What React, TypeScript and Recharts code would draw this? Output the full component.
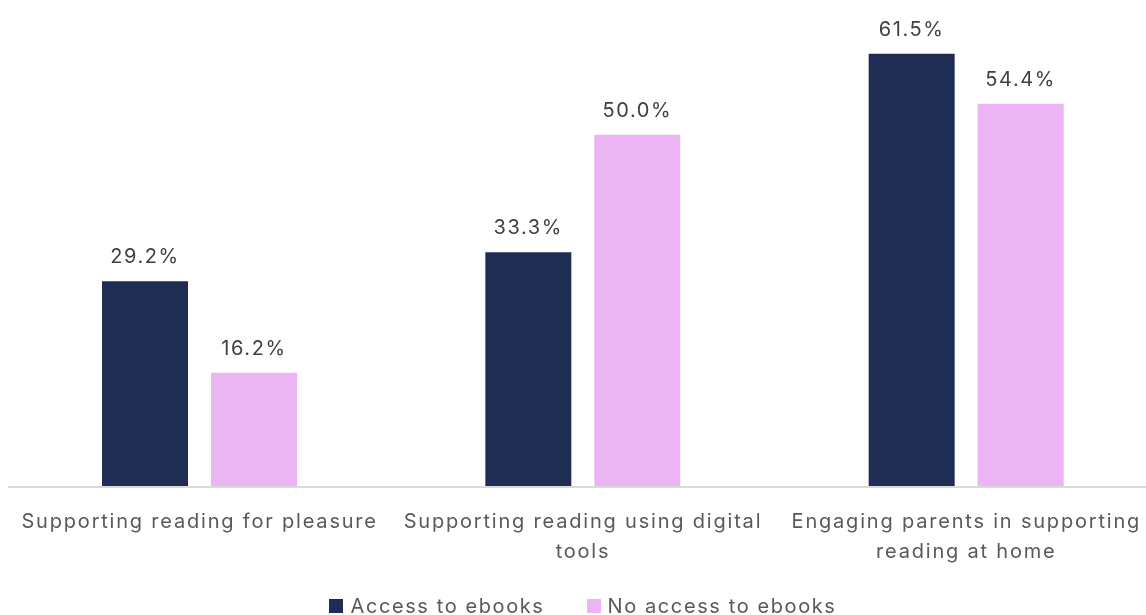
import React from "react";
import { BarChart, Bar, XAxis, YAxis, Legend, LabelList } from "recharts";

const categories = [
  "Supporting reading for pleasure",
  "Supporting reading using digital tools",
  "Engaging parents in supporting reading at home",
];
const accessValues = [29.2, 33.3, 61.5];
const noAccessValues = [16.2, 50.0, 54.4];
const seriesNames = ["Access to ebooks", "No access to ebooks"];

const NAVY = "#1f2d54";
const PINK = "#ebb4f2";
const FONT = "Inter, 'Noto Sans', sans-serif";
const SPACING = 1.6;

const data = categories.map((name, i) => ({
  name,
  access: accessValues[i],
  noAccess: noAccessValues[i],
}));

// greedy word wrap for the category labels
function wrap(text: string, maxChars: number): string[] {
  const lines: string[] = [];
  let line = "";
  for (const word of text.split(" ")) {
    const next = line ? line + " " + word : word;
    if (next.length > maxChars && line) {
      lines.push(line);
      line = word;
    } else {
      line = next;
    }
  }
  if (line) lines.push(line);
  return lines;
}

function CategoryTick(props: any) {
  const { x, y, payload } = props;
  const lines = wrap(payload.value, 32);
  return (
    <text
      x={x}
      y={y}
      textAnchor="middle"
      fill="#595959"
      fontSize={20}
      fontFamily={FONT}
      letterSpacing={1.8}
    >
      {lines.map((l, i) => (
        <tspan key={i} x={x} dy={i === 0 ? 33 : 30}>
          {l}
        </tspan>
      ))}
    </text>
  );
}

function LegendContent() {
  const colors = [NAVY, PINK];
  return (
    <div
      style={{
        display: "flex",
        justifyContent: "center",
        gap: 42,
        fontFamily: FONT,
        fontSize: 20,
        letterSpacing: SPACING,
        color: "#595959",
      }}
    >
      {seriesNames.map((n, i) => (
        <div key={n} style={{ display: "flex", alignItems: "center" }}>
          <span
            style={{
              width: 14,
              height: 14,
              background: colors[i],
              marginRight: 7,
              display: "inline-block",
            }}
          />
          {n}
        </div>
      ))}
    </div>
  );
}

const fmt = (v: any) => `${Number(v).toFixed(1)}%`;

export default function App() {
  return (
    <div
      style={{
        position: "fixed",
        top: 8,
        left: 8,
        width: 1138,
        height: 607,
        overflow: "hidden",
      }}
    >
      <BarChart
        width={1150}
        height={616}
        data={data}
        margin={{ top: 21, right: 0, bottom: 0, left: 0 }}
        barCategoryGap={94}
        barGap={23}
      >
        <XAxis
          dataKey="name"
          axisLine={{ stroke: "#d9d9d9", strokeWidth: 2 }}
          tickLine={false}
          tick={<CategoryTick />}
          height={107}
          interval={0}
        />
        <YAxis hide domain={[0, 65]} />
        <Legend
          verticalAlign="bottom"
          height={30}
          content={<LegendContent />}
        />
        <Bar
          dataKey="access"
          name={seriesNames[0]}
          fill={NAVY}
          isAnimationActive={false}
        >
          <LabelList
            dataKey="access"
            position="top"
            offset={18}
            formatter={fmt}
            fill="#404040"
            fontSize={20}
            fontFamily={FONT}
            letterSpacing={SPACING}
          />
        </Bar>
        <Bar
          dataKey="noAccess"
          name={seriesNames[1]}
          fill={PINK}
          isAnimationActive={false}
        >
          <LabelList
            dataKey="noAccess"
            position="top"
            offset={18}
            formatter={fmt}
            fill="#404040"
            fontSize={20}
            fontFamily={FONT}
            letterSpacing={SPACING}
          />
        </Bar>
      </BarChart>
    </div>
  );
}
